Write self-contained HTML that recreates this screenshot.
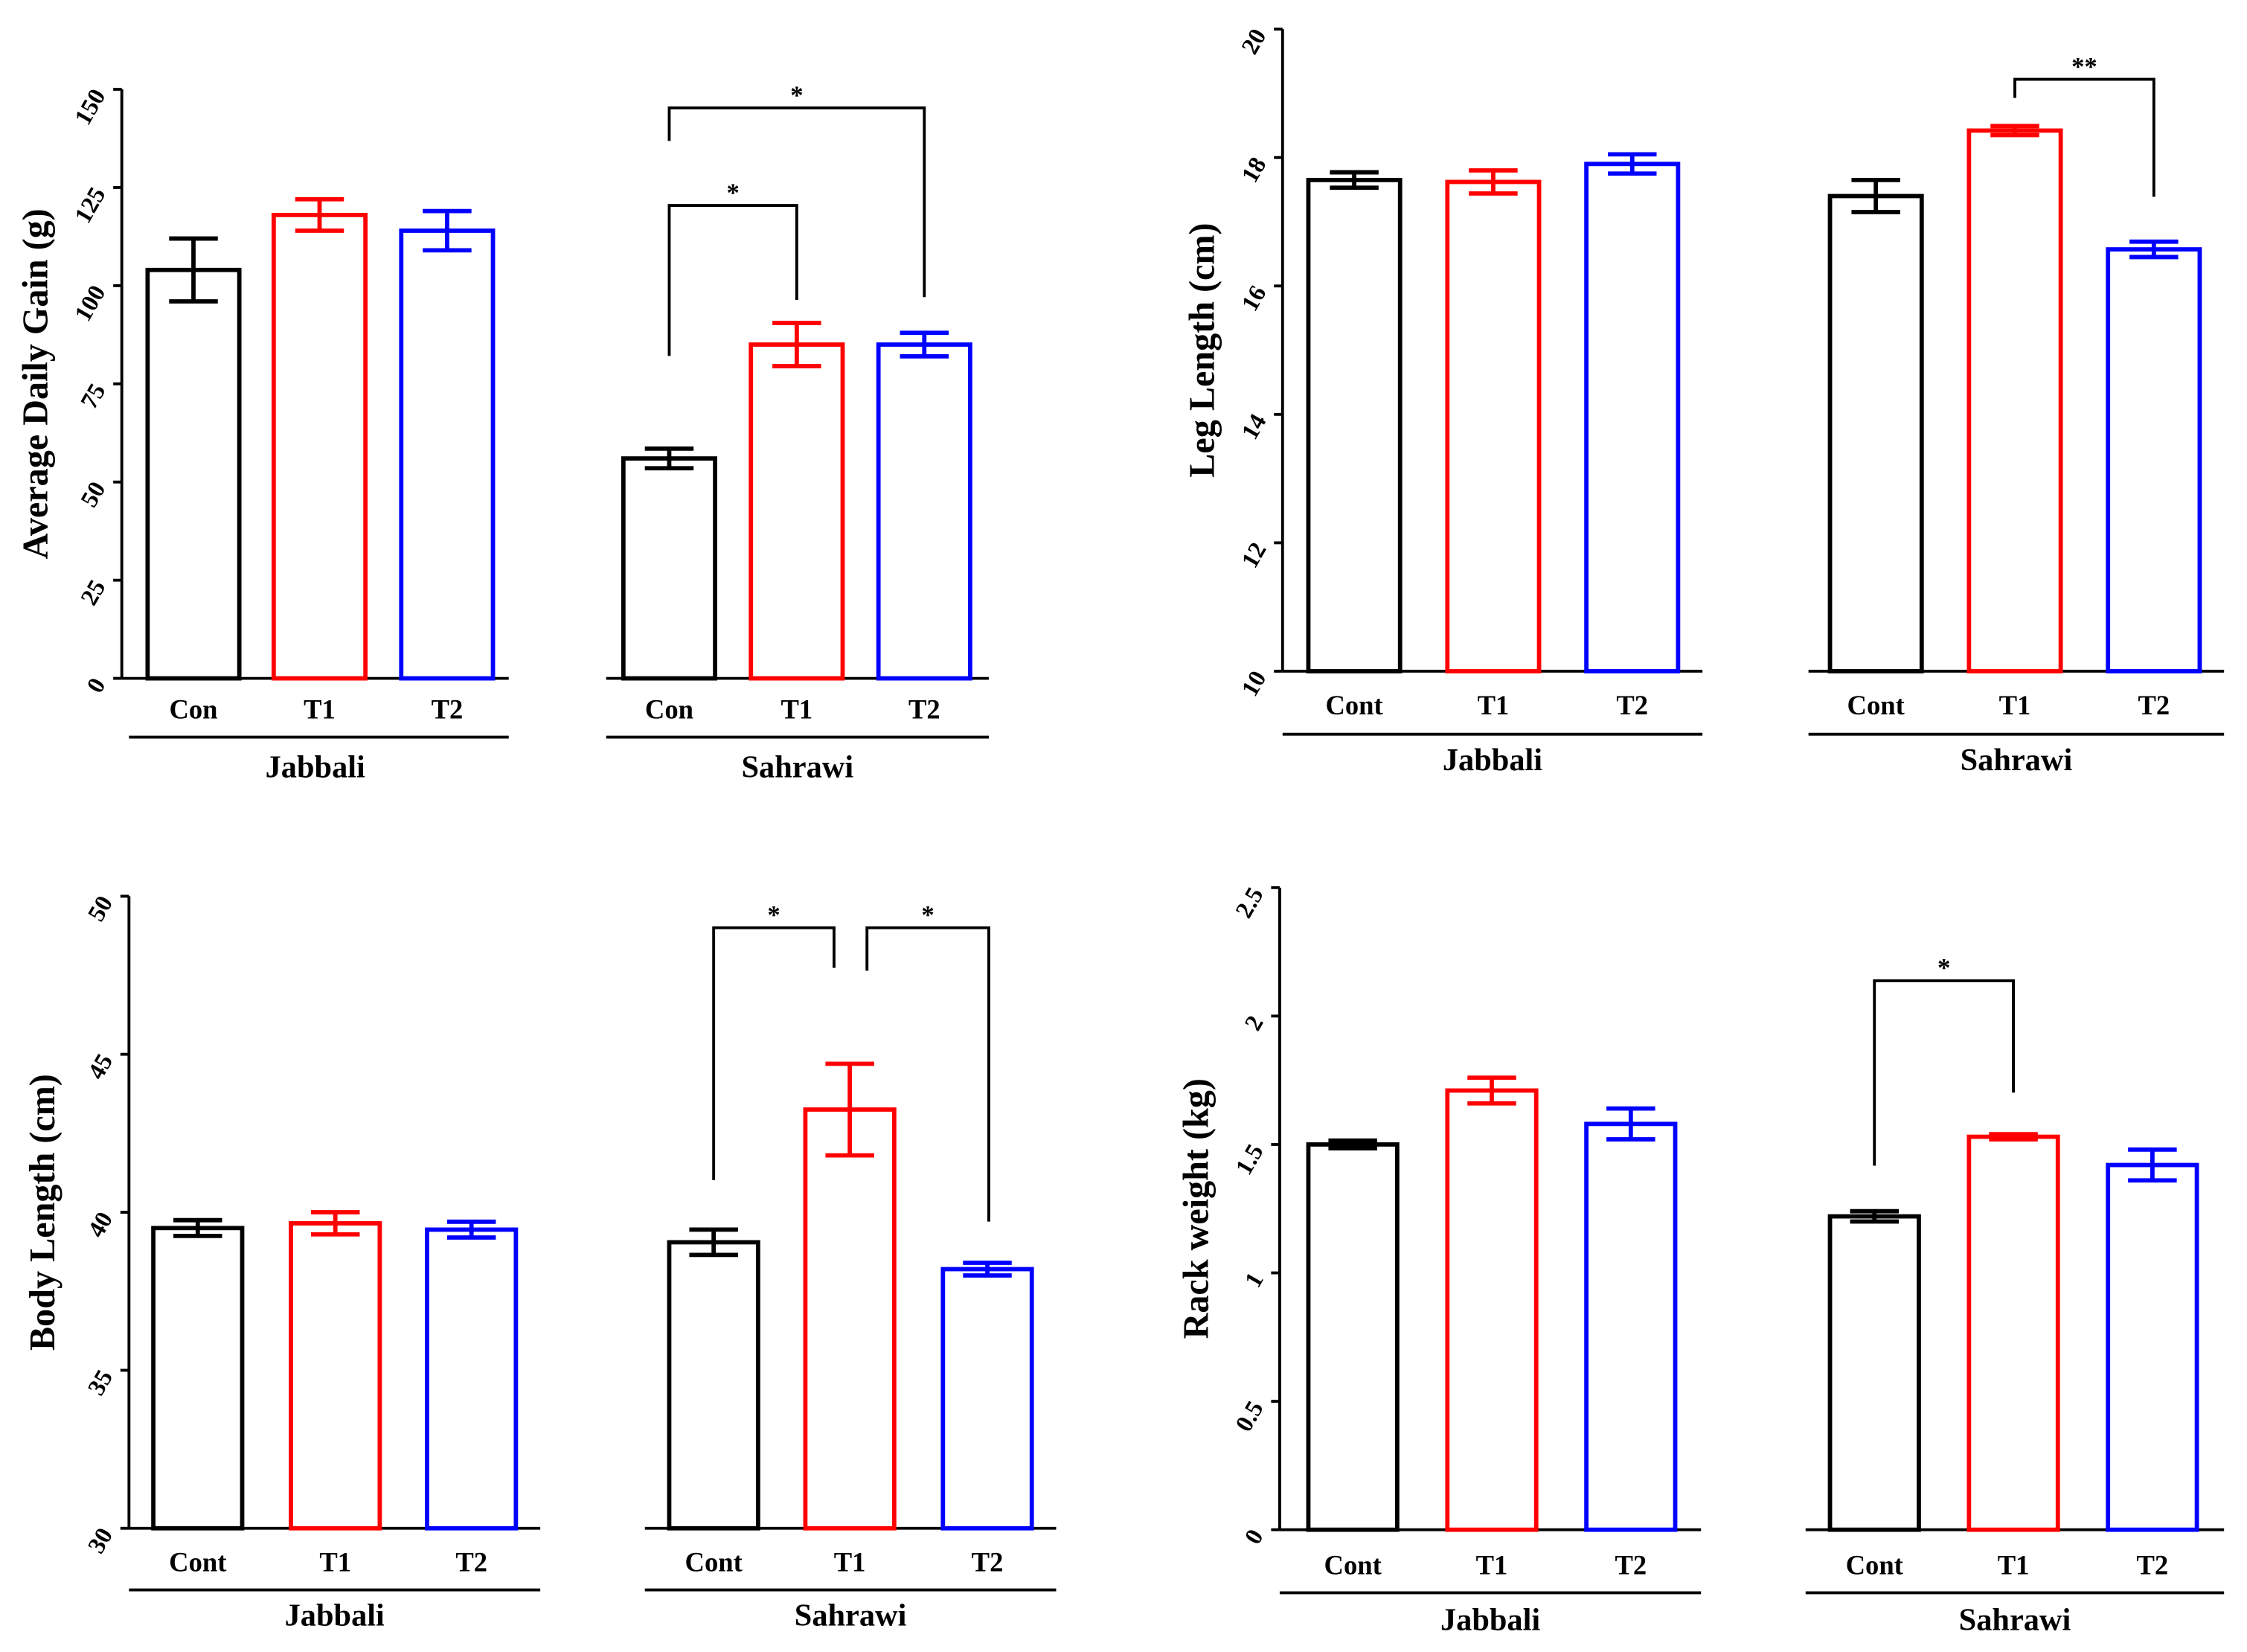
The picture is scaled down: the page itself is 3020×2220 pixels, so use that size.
<!DOCTYPE html>
<html><head><meta charset="utf-8"><style>
html,body{margin:0;padding:0;background:#fff}
svg{display:block}
text{font-family:"Liberation Serif",serif;font-weight:bold;fill:#000}
</style></head><body>
<svg id="fig" width="3020" height="2220" viewBox="0 0 1568 1152" xmlns="http://www.w3.org/2000/svg"></svg>
<script>
// ---- data ----
const groups = ["Jabbali", "Sahrawi"];
const colors = ["#000", "#f00", "#00f"];
const adgCats = ["Con", "T1", "T2"];
const adgMeans = [104, 118, 114, 56, 85, 85];
const adgErr = [8, 4, 5, 2.5, 5.5, 3];
const adgTicks = [0, 25, 50, 75, 100, 125, 150];
const legCats = ["Cont", "T1", "T2"];
const legMeans = [17.65, 17.62, 17.9, 17.4, 18.42, 16.57];
const legErr = [0.12, 0.18, 0.15, 0.25, 0.07, 0.12];
const legTicks = [10, 12, 14, 16, 18, 20];
const bodyCats = ["Cont", "T1", "T2"];
const bodyMeans = [39.5, 39.65, 39.45, 39.05, 43.25, 38.2];
const bodyErr = [0.25, 0.35, 0.25, 0.4, 1.45, 0.2];
const bodyTicks = [30, 35, 40, 45, 50];
const rackCats = ["Cont", "T1", "T2"];
const rackMeans = [1.5, 1.71, 1.58, 1.22, 1.53, 1.42];
const rackErr = [0.015, 0.05, 0.06, 0.02, 0.01, 0.06];
const rackTicks = ["0", "0.5", "1", "1.5", "2", "2.5"];

const NS = "http://www.w3.org/2000/svg";
const svg = document.getElementById("fig");
function mk(tag, attrs, parent, text){
  const e = document.createElementNS(NS, tag);
  for (const k in attrs) e.setAttribute(k, attrs[k]);
  if (text !== undefined) e.textContent = text;
  (parent || svg).appendChild(e);
  return e;
}
function panel(cfg){
  const g = mk("g", {});
  
  
  const y = v => cfg.y0 + (v - cfg.min) / (cfg.max - cfg.min) * (cfg.y1 - cfg.y0);
  const ax = mk("line", {x1: cfg.ax, x2: cfg.ax, y1: cfg.y1, y2: cfg.y0, stroke: "#000", "stroke-width": 2}, g);
  
  
  cfg.ticks.forEach(t => {
    const yy = y(parseFloat(t));
    mk("line", {x1: cfg.ax - 6, x2: cfg.ax, y1: yy, y2: yy, stroke: "#000", "stroke-width": 2}, g);
    const tl = mk("text", {x: cfg.ax - 11, y: yy + 4, "font-size": 17, "text-anchor": "end",
      transform: `rotate(-60 ${cfg.ax - 11} ${yy + 4})`}, g, t);
    
    
  });
  const yt = mk("text", {x: cfg.titleX, y: (cfg.y0 + cfg.y1) / 2, "font-size": 25, "text-anchor": "middle",
    transform: `rotate(-90 ${cfg.titleX} ${(cfg.y0 + cfg.y1) / 2})`}, g, cfg.title);
  
  
  groups.forEach((gn, gi) => {
    const [bx0, bx1] = cfg.base[gi];
    const bl = mk("line", {x1: bx0, x2: bx1, y1: cfg.y0, y2: cfg.y0, stroke: "#000", "stroke-width": 2}, g);
    
    
    const gl = mk("line", {x1: bx0 + cfg.gOff[gi][0], x2: bx1 + cfg.gOff[gi][1], y1: cfg.gLineY, y2: cfg.gLineY, stroke: "#000", "stroke-width": 2}, g);
    
    
    const gt = mk("text", {x: (bx0 + bx1) / 2, y: cfg.gLabelY, "font-size": 22, "text-anchor": "middle"}, g, gn);
    
    
    cfg.cats.forEach((c, ci) => {
      const i = gi * 3 + ci;
      const x0 = cfg.bars[gi][ci], w = cfg.bw, cx = x0 + w / 2;
      const m = cfg.means[i], e = cfg.err[i];
      const r = mk("rect", {x: x0, y: y(m), width: w, height: cfg.y0 - y(m), fill: "none", stroke: colors[ci], "stroke-width": 3}, g);
      
      
      const eb = mk("path", {d: `M${cx} ${y(m + e)}V${y(m - e)}M${cx - 17} ${y(m + e)}H${cx + 17}M${cx - 17} ${y(m - e)}H${cx + 17}`,
        stroke: colors[ci], "stroke-width": 3, fill: "none"}, g);
      
      
      const cl = mk("text", {x: cx, y: cfg.catY, "font-size": 19, "text-anchor": "middle"}, g, c);
      
      
    });
  });
  (cfg.brackets || []).forEach(b => {
    const p = mk("path", {d: `M${b[0]} ${b[3]}V${b[2]}H${b[1]}V${b[4]}`, stroke: "#000", "stroke-width": 2, fill: "none"}, g);
    
    
    const s = mk("text", {x: (b[0] + b[1]) / 2, y: b[2] - 3, "font-size": 18, "text-anchor": "middle"}, g, b[5]);
    
    
  });
}
panel({name: "panel-average-daily-gain", ax: 85, y0: 473, y1: 62, min: 0, max: 150, ticks: adgTicks.map(String),
  title: "Average Daily Gain (g)", titleX: 33, cats: adgCats, means: adgMeans, err: adgErr, bw: 64,
  base: [[85, 355], [423, 690]], gOff: [[5, 0], [0, 0]], bars: [[103, 191, 280], [435, 524, 613]],
  catY: 501, gLineY: 514, gLabelY: 542,
  brackets: [[467, 556, 143, 248, 209, "*"], [467, 645, 75, 98, 207, "*"]]});
panel({name: "panel-leg-length", ax: 895, y0: 468, y1: 20, min: 10, max: 20, ticks: legTicks.map(String),
  title: "Leg Length (cm)", titleX: 847, cats: legCats, means: legMeans, err: legErr, bw: 64,
  base: [[895, 1188], [1262, 1552]], gOff: [[0, 0], [0, 0]], bars: [[913, 1010, 1107], [1277, 1374, 1471]],
  catY: 498, gLineY: 512, gLabelY: 537,
  brackets: [[1406, 1503, 55, 68, 137, "**"]]});
panel({name: "panel-body-length", ax: 90, y0: 1066, y1: 625, min: 30, max: 50, ticks: bodyTicks.map(String),
  title: "Body Length (cm)", titleX: 38, cats: bodyCats, means: bodyMeans, err: bodyErr, bw: 62,
  base: [[90, 377], [450, 737]], gOff: [[0, 0], [0, 0]], bars: [[107, 203, 298], [467, 562, 658]],
  catY: 1096, gLineY: 1109, gLabelY: 1134,
  brackets: [[498, 582, 647, 823, 675, "*"], [605, 690, 647, 677, 852, "*"]]});
panel({name: "panel-rack-weight", ax: 893, y0: 1067, y1: 619, min: 0, max: 2.5, ticks: rackTicks,
  title: "Rack weight (kg)", titleX: 843, cats: rackCats, means: rackMeans, err: rackErr, bw: 62,
  base: [[893, 1187], [1260, 1552]], gOff: [[0, 0], [0, 0]], bars: [[913, 1010, 1107], [1277, 1374, 1471]],
  catY: 1098, gLineY: 1111, gLabelY: 1137,
  brackets: [[1308, 1405, 684, 813, 762, "*"]]});
</script>
</body></html>
